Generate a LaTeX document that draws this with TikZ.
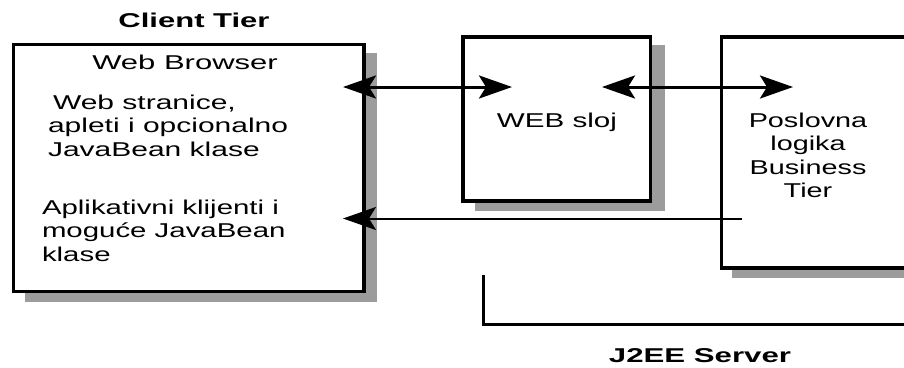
\documentclass[tikz,border=0pt]{standalone}
\usepackage{fontspec}
\setmainfont{Liberation Sans}
\usepackage{graphicx}
\usetikzlibrary{arrows.meta,backgrounds}
\definecolor{shadowgray}{HTML}{9C9C9C}
\newcommand{\wtext}[3]{\scalebox{#1}[1]{\begin{tabular}[t]{@{}#2@{}}#3\end{tabular}}}
\begin{document}
\begin{tikzpicture}[x=1pt,y=-1pt,
  tierbox/.style={draw=black, line width=3.5pt, fill=white, anchor=north west, inner sep=0pt, outer sep=0pt},
  shadowfill/.style={fill=shadowgray},
  lbl/.style={inner sep=0pt, outer sep=0pt, font=\fontsize{20}{23.5}\selectfont},
  ttl/.style={inner sep=0pt, outer sep=0pt, font=\fontsize{20}{23.5}\selectfont\bfseries},
  bigarrow/.style={line width=3pt, {Stealth[length=33pt,width=23pt,inset=7pt]}-{Stealth[length=33pt,width=23pt,inset=7pt]}},
  onearrow/.style={line width=2pt, -{Stealth[length=33pt,width=23pt,inset=7pt]}},
  bracketline/.style={line width=3pt}
]
\useasboundingbox (0,0) rectangle (904,367);

% boxes
\node[tierbox, minimum width=350.5pt, minimum height=247pt] (browser) at (13.5,44.5) {};
\node[tierbox, minimum width=187.5pt, minimum height=164pt] (web) at (463,37) {};
\node[tierbox, minimum width=260pt, minimum height=231pt] (biz) at (721.5,37) {};

% shadows
\begin{scope}[on background layer]
  \fill[shadowfill] ([shift={(11,8)}]browser.north west) rectangle ([shift={(13,10)}]browser.south east);
  \fill[shadowfill] ([shift={(12,8)}]web.north west) rectangle ([shift={(14,10)}]web.south east);
  \fill[shadowfill] ([shift={(10,8)}]biz.north west) rectangle ([shift={(12,10)}]biz.south east);
\end{scope}

% titles
\node[ttl, anchor=base] (clienttier) at (194,27) {\wtext{1.55}{c}{Client Tier}};
\node[ttl, anchor=base] (j2ee) at (700,362.5) {\wtext{1.56}{c}{J2EE Server}};

% texts
\node[lbl, anchor=base] (wbtitle) at (185,69) {\wtext{1.55}{c}{Web Browser}};
\node[lbl, anchor=base west] (webpages) at (48,109) {\wtext{1.5}{l}{\,Web stranice,\\apleti i opcionalno\\JavaBean klase}};
\node[lbl, anchor=base west] (appclients) at (42,214) {\wtext{1.47}{l}{Aplikativni klijenti i\\moguće JavaBean\\klase}};
\node[lbl, anchor=base] (websloj) at (557,127) {\wtext{1.48}{c}{WEB sloj}};
\node[lbl, anchor=base] (bizlbl) at (808,127) {\wtext{1.44}{c}{Poslovna\\logika\\Business\\Tier}};

% arrow end points
\coordinate (a1l) at (343,87);
\coordinate (a1r) at (512,87);
\coordinate (a2l) at (602,87);
\coordinate (a2r) at (793,87);
\coordinate (a3s) at (742,218.5);
\coordinate (a3e) at (343,218.5);

\draw[bigarrow] (a1l) -- (a1r);
\draw[bigarrow] (a2l) -- (a2r);
\draw[onearrow] (a3s) -- (a3e);

% J2EE server bracket
\coordinate (srvtop) at (483,275);
\coordinate (srvcorner) at (483,324);
\coordinate (srvend) at (915,324);
\draw[bracketline] (srvtop) -- (srvcorner) -- (srvend);
\end{tikzpicture}
\end{document}
